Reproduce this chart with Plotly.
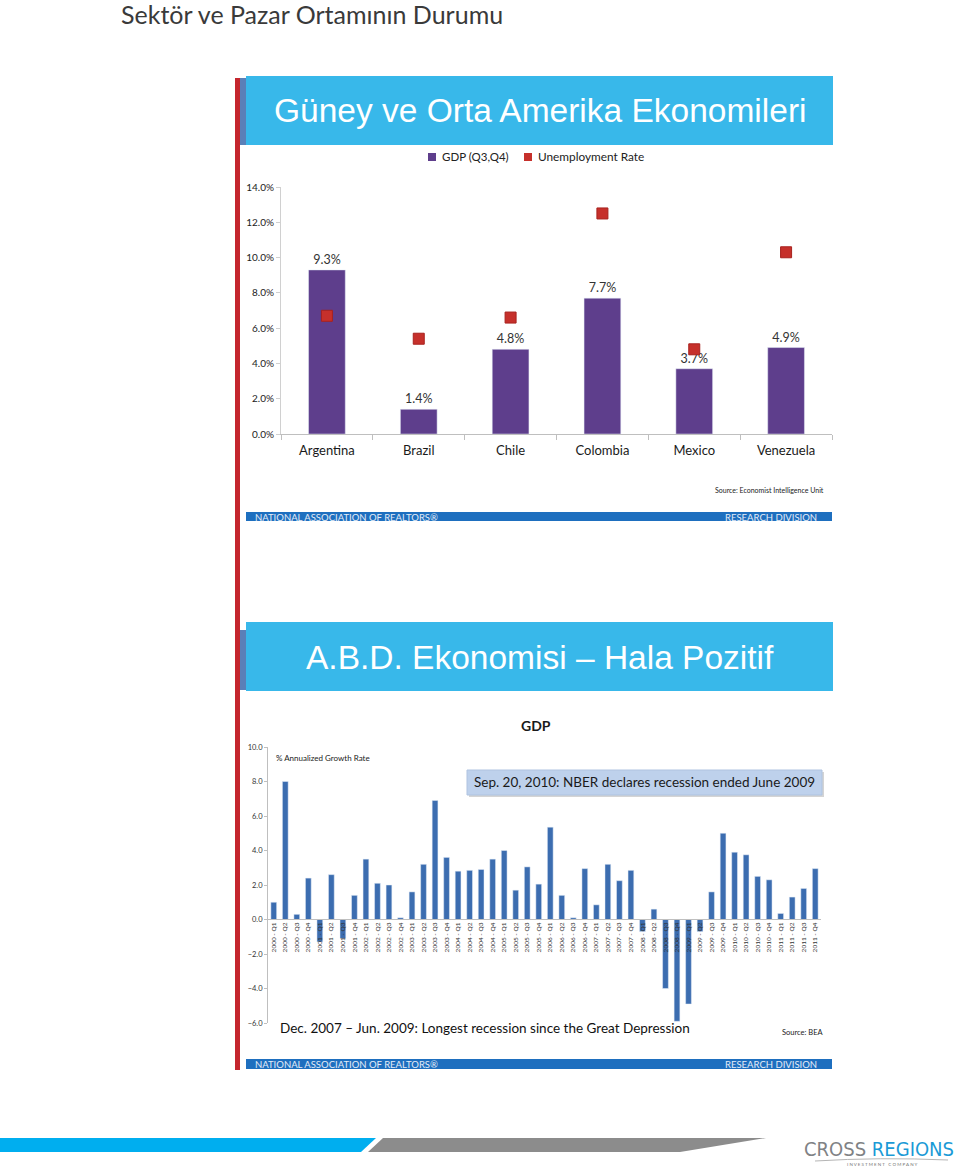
import plotly.graph_objects as go

W, H = 960, 1169
def X(px): return px / W
def Y(py): return 1 - py / H

# ---- data: chart 1 (South & Central America) ----
countries = ["Argentina", "Brazil", "Chile", "Colombia", "Mexico", "Venezuela"]
gdp_q3q4 = [9.3, 1.4, 4.8, 7.7, 3.7, 4.9]
unemployment = [6.7, 5.4, 6.6, 12.5, 4.8, 10.3]
series_names = ["GDP (Q3,Q4)", "Unemployment Rate"]

# ---- data: chart 2 (US GDP, % annualized growth) ----
quarters = [f"{y} - Q{q}" for y in range(2000, 2012) for q in range(1, 5)]
us_gdp = [1.0, 8.0, 0.3, 2.4,
          -1.3, 2.6, -1.1, 1.4,
          3.5, 2.1, 2.0, 0.1,
          1.6, 3.2, 6.9, 3.6,
          2.8, 2.85, 2.9, 3.5,
          4.0, 1.7, 3.05, 2.05,
          5.35, 1.4, 0.1, 2.95,
          0.85, 3.2, 2.25, 2.85,
          -0.7, 0.6, -4.0, -5.9,
          -4.9, -0.7, 1.6, 5.0,
          3.9, 3.75, 2.5, 2.3,
          0.35, 1.3, 1.8, 2.95]

FONT = "Lato, Carlito, Open Sans, sans-serif"
PURPLE, RED, BLUE = "#5E3E8C", "#C6302B", "#3C6DB0"

fig = go.Figure()
fig.add_trace(go.Bar(
    x=countries, y=gdp_q3q4, name=series_names[0], marker_color=PURPLE,
    width=0.4, texttemplate="%{y:.1f}%", textposition="outside",
    textfont=dict(size=12.5, color="#333333", family=FONT), cliponaxis=False,
    showlegend=False, xaxis="x", yaxis="y"))
fig.add_trace(go.Scatter(
    x=countries, y=unemployment, mode="markers", name=series_names[1],
    marker=dict(symbol="square", size=11, color=RED,
                line=dict(color="#A8221E", width=1)),
    showlegend=False, xaxis="x", yaxis="y", cliponaxis=False))
fig.add_trace(go.Bar(
    x=quarters, y=us_gdp, marker_color=BLUE, width=0.5,
    showlegend=False, xaxis="x2", yaxis="y2"))

shapes = []
def rect(x0, y0, x1, y1, color, line=None):
    shapes.append(dict(type="rect", xref="paper", yref="paper",
                       x0=X(x0), x1=X(x1), y0=Y(y1), y1=Y(y0),
                       fillcolor=color,
                       line=dict(width=0) if line is None else dict(color=line, width=1)))
def path(pts, color):
    d = "M " + " L ".join(f"{X(a):.5f},{Y(b):.5f}" for a, b in pts) + " Z"
    shapes.append(dict(type="path", xref="paper", yref="paper", path=d,
                       fillcolor=color, line=dict(width=0)))

rect(235, 78, 240, 1070, "#C4262E")
rect(240, 78, 246, 145, "#5A80B8")
rect(246, 76, 833, 145, "#38B8EA")
rect(240, 630, 246, 690, "#5A80B8")
rect(246, 622, 833, 691, "#38B8EA")
rect(246, 512, 832, 521, "#1E6FBF")
rect(246, 1059, 832, 1069, "#1E6FBF")
rect(469, 772, 824, 797, "#D4D4D4")
rect(467, 770, 822, 795, "#BED1EC", "#AFC3E0")
# legend swatches for chart 1
rect(428, 153, 436, 161, PURPLE)
rect(524, 153, 532, 161, RED)
path([(0, 1138), (376, 1138), (361, 1152), (0, 1152)], "#00AEEF")
path([(383, 1138), (766, 1138), (680, 1152), (368, 1152)], "#8C8C8C")
shapes.append(dict(type="path", xref="paper", yref="paper",
                   path=f"M {X(815)},{Y(1161)} Q {X(880)},{Y(1157)} {X(948)},{Y(1160)}",
                   line=dict(color="#B5B5B5", width=1)))

ann = []
def text(x, y, s, size, color="#222222", xanchor="center", family=FONT, yanchor="middle"):
    ann.append(dict(x=X(x), y=Y(y), xref="paper", yref="paper", text=s,
                    showarrow=False, xanchor=xanchor, yanchor=yanchor,
                    font=dict(size=size, color=color, family=family)))

text(119, -3, "Sektör ve Pazar Ortamının Durumu", 25, "#3A3A3A", "left", yanchor="top")
text(540, 110, "Güney ve Orta Amerika Ekonomileri", 33.5, "#FFFFFF", family="Liberation Sans, Arial")
text(540, 657, "A.B.D. Ekonomisi – Hala Pozitif", 33.5, "#FFFFFF", family="Liberation Sans, Arial")
text(440, 157, series_names[0], 11.5, "#222222", "left")
text(536, 157, series_names[1], 11.8, "#222222", "left")
text(826, 490, "Source: Economist Intelligence Unit", 7, "#222222", "right")
text(253, 517, "NATIONAL ASSOCIATION OF REALTORS®", 9.5, "#E4ECF7", "left")
text(819, 517, "RESEARCH DIVISION", 9.5, "#E4ECF7", "right")
text(536, 725, "<b>GDP</b>", 14, "#1A1A1A")
text(274, 758, "% Annualized Growth Rate", 8, "#222222", "left")
text(644, 782, "Sep. 20, 2010: NBER declares recession ended June 2009", 13.5, "#1A1A1A")
text(278, 1028, "Dec. 2007 – Jun. 2009: Longest recession since the Great Depression", 13.5, "#111111", "left")
text(826, 1032, "Source: BEA", 7.5, "#222222", "right")
text(253, 1064, "NATIONAL ASSOCIATION OF REALTORS®", 9.5, "#E4ECF7", "left")
text(819, 1064, "RESEARCH DIVISION", 9.5, "#E4ECF7", "right")
text(956, 1149, "<span style='color:#808285'>CROSS</span> <span style='color:#1B9AD6'>REGIONS</span>",
     20, "#808285", "right", family="Liberation Sans Narrow, DejaVu Sans Condensed, sans-serif")
text(882, 1164, "I N V E S T M E N T   C O M P A N Y", 4.5, "#777777")

fig.update_layout(
    width=W, height=H, margin=dict(l=0, r=0, t=0, b=0, autoexpand=False),
    paper_bgcolor="white", plot_bgcolor="white",
    font=dict(family=FONT, color="#222222"),
    shapes=shapes, annotations=ann, bargap=0.5, showlegend=False,
    xaxis=dict(domain=[X(281), X(832)], anchor="y", showline=True, linecolor="#BFBFBF",
               ticks="outside", tickson="boundaries", ticklen=5, tickcolor="#BFBFBF",
               tickfont=dict(size=13, color="#1A1A1A"), showgrid=False,
               ticklabelstandoff=4),
    yaxis=dict(domain=[Y(434), Y(187)], anchor="x", range=[0, 14], dtick=2,
               tickformat=".1f", ticksuffix="%", showline=True, linecolor="#D0D0D0",
               ticks="outside", ticklen=4, tickcolor="#D0D0D0",
               tickfont=dict(size=10, color="#222222"), showgrid=False, zeroline=False),
    xaxis2=dict(domain=[X(268), X(821)], anchor="free", position=Y(919), showline=True,
                linecolor="#BFBFBF", ticks="", tickangle=-90,
                tickfont=dict(size=6.5, color="#333333"), showgrid=False),
    yaxis2=dict(domain=[Y(1023), Y(747)], anchor="x2", range=[-6, 10], dtick=2,
                tickformat=".1f", showline=True, linecolor="#BFBFBF",
                ticks="outside", ticklen=3, tickcolor="#BFBFBF",
                tickfont=dict(size=7.5, color="#333333"), showgrid=False, zeroline=False),
)

fig.write_html("out.html")
